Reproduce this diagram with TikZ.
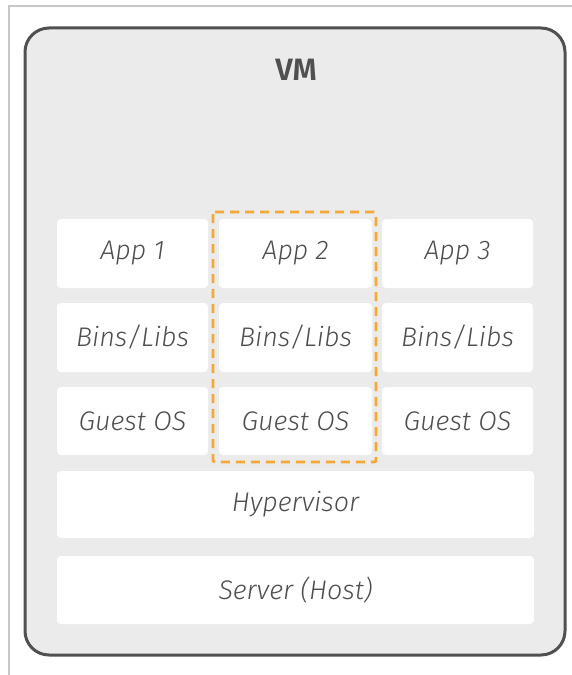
\documentclass[tikz,border=0pt]{standalone}
\usepackage{fontspec}
\setmainfont{Fira Sans}[UprightFont=* Light, ItalicFont=* Light Italic, BoldFont=* SemiBold]
\definecolor{framegray}{HTML}{C8C8C8}
\definecolor{outerfill}{HTML}{EBEBEB}
\definecolor{outerline}{HTML}{505050}
\definecolor{txtgray}{HTML}{4E4E4E}
\definecolor{dashorange}{HTML}{F5A833}
\tikzset{
  layerbox/.style={fill=white, rounded corners=4bp, draw=none},
  layertext/.style={font=\itshape\fontsize{27}{31}\selectfont, text=txtgray},
}
\begin{document}
\begin{tikzpicture}[x=1bp,y=-1bp]
\useasboundingbox (0,0) rectangle (572,675);
\fill[white] (0,0) rectangle (572,675);
\draw[framegray, line width=1.2bp] (9,675) -- (9,6) -- (572,6);
\draw[outerline, fill=outerfill, line width=3bp, rounded corners=24bp] (25,28) rectangle (565,655);
\node[font=\bfseries\fontsize{31}{35}\selectfont, text=outerline] (vm) at (296,70) {VM};
% column boxes
\foreach \cl/\cr in {57/208, 219/372, 382/533} {
  \fill[layerbox] (\cl,219) rectangle (\cr,288);
  \fill[layerbox] (\cl,303) rectangle (\cr,372);
  \fill[layerbox] (\cl,387) rectangle (\cr,455);
}
\fill[layerbox] (57,471) rectangle (534,538);
\fill[layerbox] (57,556) rectangle (534,624);
\node[layertext] (app1) at (132.5,253.5) {App 1};
\node[layertext] (app2) at (295.5,253.5) {App 2};
\node[layertext] (app3) at (457.5,253.5) {App 3};
\node[layertext] (bins1) at (132.5,337.5) {Bins/Libs};
\node[layertext] (bins2) at (295.5,337.5) {Bins/Libs};
\node[layertext] (bins3) at (457.5,337.5) {Bins/Libs};
\node[layertext] (os1) at (132.5,421) {Guest OS};
\node[layertext] (os2) at (295.5,421) {Guest OS};
\node[layertext] (os3) at (457.5,421) {Guest OS};
\node[layertext] (hyp) at (295.5,504.5) {Hypervisor};
\node[layertext] (srv) at (295.5,590) {Server (Host)};
\draw[dashorange, line width=2.8bp, dash pattern=on 9bp off 6bp, rounded corners=2bp] (213,212) rectangle (376,462);
\end{tikzpicture}
\end{document}
